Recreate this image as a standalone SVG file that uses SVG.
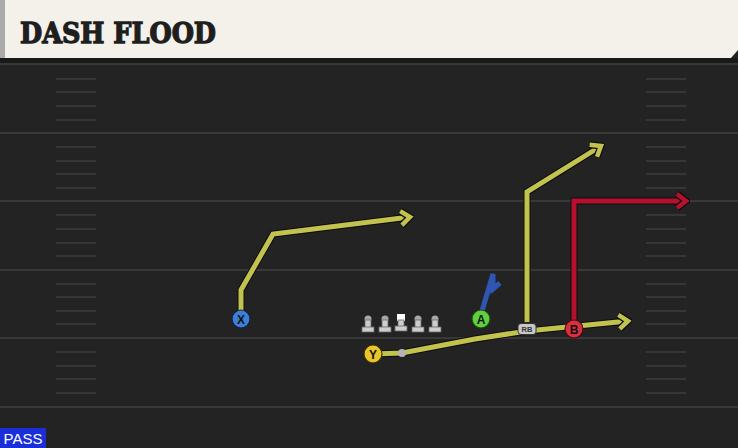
<svg xmlns="http://www.w3.org/2000/svg" width="738" height="448" viewBox="0 0 738 448">
<defs>
<style>
.fl{stroke:#383838;stroke-width:2}
.hs{stroke:#363636;stroke-width:2}
.out{fill:none;stroke:#0c0c0c;stroke-width:7;stroke-linejoin:miter}
.yr{fill:none;stroke:#c2c24e;stroke-width:5;stroke-linejoin:miter}
.rr{fill:none;stroke:#b5112e;stroke-width:5;stroke-linejoin:miter}
.br{fill:none;stroke:#2f55b5;stroke-width:5;stroke-linejoin:miter}
.lbl{font-family:"Liberation Sans",Arial,sans-serif;font-weight:bold;font-size:12px;text-anchor:middle;fill:#111}
.st{fill:#cdcdcd;stroke:#666;stroke-width:0.8}
.hd{fill:#a8a8a8}
</style>
<marker id="ay" viewBox="-14 -10 18 20" markerWidth="18" markerHeight="20" refX="0" refY="0" orient="auto" markerUnits="userSpaceOnUse">
<path d="M-9,-7 L0,0 L-9,7" fill="none" stroke="#0c0c0c" stroke-width="7"/>
<path d="M-9,-7 L0,0 L-9,7" fill="none" stroke="#c2c24e" stroke-width="4.5"/>
</marker>
<marker id="ar" viewBox="-14 -10 18 20" markerWidth="18" markerHeight="20" refX="0" refY="0" orient="auto" markerUnits="userSpaceOnUse">
<path d="M-9,-7 L0,0 L-9,7" fill="none" stroke="#0c0c0c" stroke-width="7"/>
<path d="M-9,-7 L0,0 L-9,7" fill="none" stroke="#b5112e" stroke-width="4.5"/>
</marker>
</defs>
<rect x="0" y="0" width="738" height="448" fill="#232323"/>
<g id="field">
<line class="fl" x1="0" y1="64" x2="738" y2="64"/>
<line class="fl" x1="0" y1="133" x2="738" y2="133"/>
<line class="fl" x1="0" y1="201" x2="738" y2="201"/>
<line class="fl" x1="0" y1="270" x2="738" y2="270"/>
<line class="fl" x1="0" y1="338" x2="738" y2="338"/>
<line class="fl" x1="0" y1="407" x2="738" y2="407"/>
<g id="hashL">
<line class="hs" x1="56" y1="79" x2="96" y2="79"/><line class="hs" x1="56" y1="92" x2="96" y2="92"/><line class="hs" x1="56" y1="106" x2="96" y2="106"/><line class="hs" x1="56" y1="120" x2="96" y2="120"/>
<line class="hs" x1="56" y1="147" x2="96" y2="147"/><line class="hs" x1="56" y1="161" x2="96" y2="161"/><line class="hs" x1="56" y1="174" x2="96" y2="174"/><line class="hs" x1="56" y1="188" x2="96" y2="188"/>
<line class="hs" x1="56" y1="215" x2="96" y2="215"/><line class="hs" x1="56" y1="229" x2="96" y2="229"/><line class="hs" x1="56" y1="243" x2="96" y2="243"/><line class="hs" x1="56" y1="256" x2="96" y2="256"/>
<line class="hs" x1="56" y1="284" x2="96" y2="284"/><line class="hs" x1="56" y1="297" x2="96" y2="297"/><line class="hs" x1="56" y1="311" x2="96" y2="311"/><line class="hs" x1="56" y1="324" x2="96" y2="324"/>
<line class="hs" x1="56" y1="352" x2="96" y2="352"/><line class="hs" x1="56" y1="366" x2="96" y2="366"/><line class="hs" x1="56" y1="379" x2="96" y2="379"/><line class="hs" x1="56" y1="393" x2="96" y2="393"/>
</g>
<g id="hashR">
<line class="hs" x1="646" y1="79" x2="686" y2="79"/><line class="hs" x1="646" y1="92" x2="686" y2="92"/><line class="hs" x1="646" y1="106" x2="686" y2="106"/><line class="hs" x1="646" y1="120" x2="686" y2="120"/>
<line class="hs" x1="646" y1="147" x2="686" y2="147"/><line class="hs" x1="646" y1="161" x2="686" y2="161"/><line class="hs" x1="646" y1="174" x2="686" y2="174"/><line class="hs" x1="646" y1="188" x2="686" y2="188"/>
<line class="hs" x1="646" y1="215" x2="686" y2="215"/><line class="hs" x1="646" y1="229" x2="686" y2="229"/><line class="hs" x1="646" y1="243" x2="686" y2="243"/><line class="hs" x1="646" y1="256" x2="686" y2="256"/>
<line class="hs" x1="646" y1="284" x2="686" y2="284"/><line class="hs" x1="646" y1="297" x2="686" y2="297"/><line class="hs" x1="646" y1="311" x2="686" y2="311"/><line class="hs" x1="646" y1="324" x2="686" y2="324"/>
<line class="hs" x1="646" y1="352" x2="686" y2="352"/><line class="hs" x1="646" y1="366" x2="686" y2="366"/><line class="hs" x1="646" y1="379" x2="686" y2="379"/><line class="hs" x1="646" y1="393" x2="686" y2="393"/>
</g>
</g>
<g id="header">
<rect x="0" y="58" width="738" height="5" fill="#1a1a1a"/>
<path d="M0,0 H738 V50 L731,58 H0 Z" fill="#f4f1ea"/>
<rect x="0" y="0" width="5" height="58" fill="#aaaaaa"/>
<text x="20" y="43" font-family="'DejaVu Serif',serif" font-weight="bold" font-size="28" fill="#1e1e1e" textLength="196" lengthAdjust="spacingAndGlyphs" stroke="#1e1e1e" stroke-width="1.3">DASH FLOOD</text>
</g>
<g id="connectors">
<polyline class="out" points="241,311 241,290 273,234 410,217"/>
<polyline class="yr" points="241,311 241,290 273,234 410,217" marker-end="url(#ay)"/>
<polyline class="out" points="527,322 527,192 601,146"/>
<polyline class="yr" points="527,322 527,192 601,146" marker-end="url(#ay)"/>
<polyline class="out" points="574,321 574,201 686,201"/>
<polyline class="rr" points="574,321 574,201 686,201" marker-end="url(#ar)"/>
<polyline class="out" points="373,354 402,353 475,339 527,331 628,321"/>
<polyline class="yr" points="373,354 402,353 475,339 527,331 628,321" marker-end="url(#ay)"/>
<polyline class="br" points="482,311 493,274 493,289 500,283"/>
<circle cx="402" cy="353" r="4" fill="#b5b5b5"/>
</g>
<g id="line">
<g id="ol1"><circle class="hd" cx="368" cy="319" r="3.5"/><rect class="st" x="365" y="320" width="6" height="8"/><rect class="st" x="362" y="327" width="12" height="5"/></g>
<g id="ol2"><circle class="hd" cx="385" cy="319" r="3.5"/><rect class="st" x="382" y="320" width="6" height="8"/><rect class="st" x="379" y="327" width="12" height="5"/></g>
<g id="center"><rect x="397" y="314" width="8" height="7" fill="#fff"/><rect class="st" x="398" y="320" width="6" height="7"/><rect class="st" x="395" y="326" width="12" height="5"/></g>
<g id="ol4"><circle class="hd" cx="418" cy="319" r="3.5"/><rect class="st" x="415" y="320" width="6" height="8"/><rect class="st" x="412" y="327" width="12" height="5"/></g>
<g id="ol5"><circle class="hd" cx="435" cy="319" r="3.5"/><rect class="st" x="432" y="320" width="6" height="8"/><rect class="st" x="429" y="327" width="12" height="5"/></g>
</g>
<g id="X"><circle cx="241" cy="319" r="9" fill="#3d7fd6" stroke="#14203d" stroke-width="1.2"/><text class="lbl" x="241" y="323.5">X</text></g>
<g id="Y"><circle cx="373" cy="354" r="9" fill="#e8c52a" stroke="#3a3000" stroke-width="1.2"/><text class="lbl" x="373" y="358.5">Y</text></g>
<g id="A"><circle cx="481" cy="319" r="9" fill="#5fd13f" stroke="#1f4a10" stroke-width="1.2"/><text class="lbl" x="481" y="323.5">A</text></g>
<g id="B"><circle cx="574" cy="329" r="9" fill="#d8303e" stroke="#4a0a10" stroke-width="1.2"/><text class="lbl" x="574" y="333.5">B</text></g>
<g id="RB"><rect x="518" y="323.5" width="18" height="11" rx="3" fill="#c8c8c8" stroke="#333" stroke-width="1"/><text x="527" y="332" font-family="'Liberation Sans',Arial,sans-serif" font-weight="bold" font-size="7.5" text-anchor="middle" fill="#333">RB</text></g>
<g id="pass"><rect x="0" y="428" width="46" height="20" fill="#1b2fd8"/><text x="23" y="444" font-family="'Liberation Sans',Arial,sans-serif" font-size="15" text-anchor="middle" fill="#fff">PASS</text></g>
</svg>
